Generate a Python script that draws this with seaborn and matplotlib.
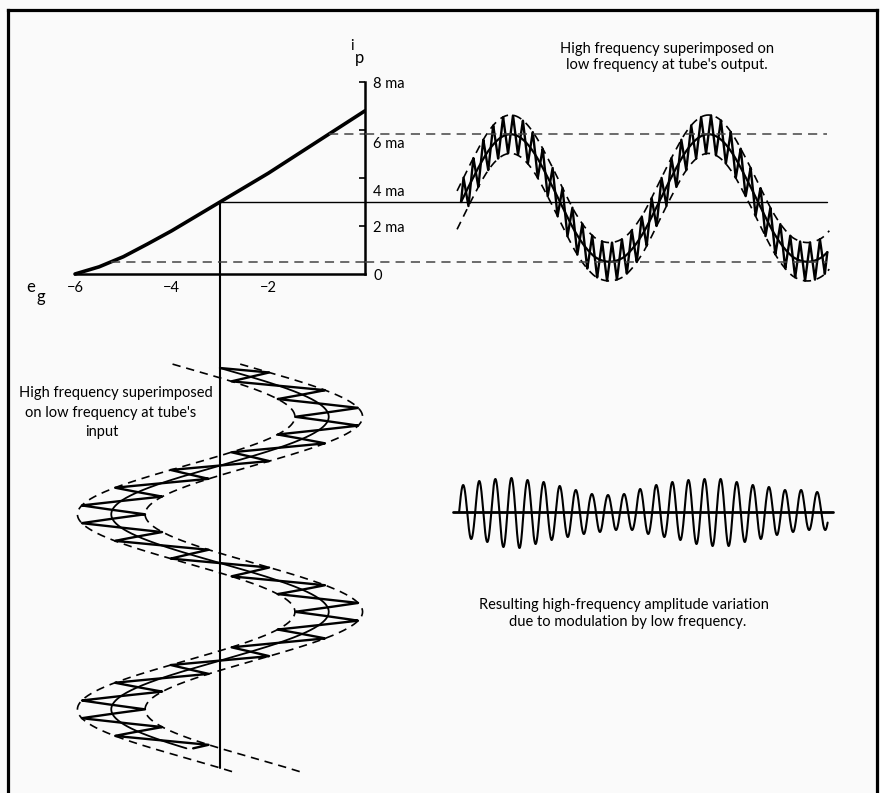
import numpy as np
import matplotlib.pyplot as plt
import matplotlib.transforms as mtransforms
import seaborn as sns

# plate current vs grid voltage
eg_curve = [-6, -5.5, -5, -4.5, -4, -3.5, -3, -2, -1, 0]
ip_curve = [0.0, 0.3, 0.72, 1.25, 1.8, 2.4, 3.0, 4.2, 5.5, 6.8]

bias = -3.0          # grid bias (volts)
lf_amp = 2.25        # low frequency swing on the grid (volts)
hf_amp_in = 0.7      # high frequency swing on the grid (volts)
hf_amp_out = 0.8     # high frequency swing in the plate current (ma)
hf_per_lf_in = 11    # carrier cycles per low-frequency cycle, input sketch
hf_per_lf_out = 20   # carrier cycles per low-frequency cycle, output sketch
in_cycles = 1.95
out_cycles = 1.85

x_ticks = [-6, -4, -2]
x_ticklabels = ['\u22126', '\u22124', '\u22122']
y_ticks = [0, 2, 4, 6, 8]
y_ticklabels = ['0', '2 ma', '4 ma', '6 ma', '8 ma']
y_label_drop = [0, 0, 12, 12, 0]   # labels drawn a little under their tick in the original

# modulated wave: height of each carrier peak / trough
mod_peaks = [27, 31, 33, 34, 32, 30, 26, 22, 18, 17, 18, 23, 27, 30, 32, 33, 33, 30, 27, 25, 22, 22, 20]
mod_troughs = [27, 30, 35, 36, 32, 28, 25, 22, 20, 18, 18, 22, 25, 28, 32, 34, 34, 30, 27, 23, 20, 18, 18]
mod_cycles = 22.9

sns.set_style('white')
plt.rcParams['font.family'] = ['Lato', 'DejaVu Sans']
plt.rcParams['axes.unicode_minus'] = True

W, H = 880, 793
bg = '#fafafa'
fig = plt.figure(figsize=(W / 100, H / 100), dpi=100, facecolor=bg)


def px_axes(x0, y0, x1, y1):
    a = fig.add_axes([x0 / W, 1 - y1 / H, (x1 - x0) / W, (y1 - y0) / H])
    a.patch.set_alpha(0)
    return a


def tri(t):
    return 2 / np.pi * np.arcsin(np.sin(2 * np.pi * t))


# frame
frame = px_axes(8, 10, 877, 810)
frame.set_xticks([])
frame.set_yticks([])
for s in ['left', 'top', 'right']:
    frame.spines[s].set_linewidth(2.3)
    frame.spines[s].set_color('black')
frame.spines['bottom'].set_visible(False)

# ---- transfer characteristic
ax_tc = px_axes(20, 30, 365, 300)
ax_tc.set_xlim(-7.138, 0)
ax_tc.set_ylim(-1.083, 10.167)
sns.lineplot(x=eg_curve, y=ip_curve, ax=ax_tc, color='black', lw=2.6,
             estimator=None, sort=False)
for s in ['left', 'top']:
    ax_tc.spines[s].set_visible(False)
ax_tc.spines['bottom'].set_position(('data', 0))
ax_tc.spines['bottom'].set_bounds(-6, 0)
ax_tc.spines['right'].set_bounds(0, 8)
for s in ['bottom', 'right']:
    ax_tc.spines[s].set_linewidth(1.8)
    ax_tc.spines[s].set_color('black')
ax_tc.yaxis.tick_right()
ax_tc.set_xticks(x_ticks)
ax_tc.set_xticklabels(x_ticklabels)
ax_tc.set_yticks(y_ticks)
ax_tc.set_yticklabels(y_ticklabels)
ax_tc.tick_params(axis='x', direction='in', length=4, width=1.2, pad=5, labelsize=10.5, colors='black')
ax_tc.tick_params(axis='y', direction='in', length=4, width=1.2, pad=6, labelsize=10.5, colors='black')
ax_tc.yaxis.get_major_ticks()[0].tick2line.set_visible(False)
for lab, drop in zip(ax_tc.get_yticklabels(), y_label_drop):
    lab.set_transform(lab.get_transform() +
                      mtransforms.ScaledTranslation(0, -drop / 100, fig.dpi_scale_trans))

ip_q = np.interp(bias, eg_curve, ip_curve)
ip_hi = np.interp(bias + lf_amp, eg_curve, ip_curve)
ip_lo = np.interp(bias - lf_amp, eg_curve, ip_curve)
dash = (6, 4)
ax_tc.plot([bias, 0], [ip_q, ip_q], color='black', lw=1.0)
ax_tc.plot([bias, bias], [ip_q, 0], color='black', lw=1.5)
ax_tc.plot([bias + lf_amp, 0], [ip_hi, ip_hi], color='#444444', lw=1.1, dashes=dash)
ax_tc.plot([bias - lf_amp, 0], [ip_lo, ip_lo], color='#444444', lw=1.1, dashes=dash)

# ---- output (plate current vs time)
ax_out = px_axes(365, 30, 860, 300)
ax_out.set_xlim(-0.485, 2.015)
ax_out.set_ylim(-1.083, 10.167)
ax_out.axis('off')
t = np.linspace(0, out_cycles, 4000)
inner = np.interp(bias + lf_amp * np.sin(2 * np.pi * t), eg_curve, ip_curve)
wave = inner + hf_amp_out * tri(hf_per_lf_out * t)
sns.lineplot(x=t, y=wave, ax=ax_out, color='black', lw=1.7, estimator=None, sort=False)
sns.lineplot(x=t, y=inner, ax=ax_out, color='black', lw=1.6, estimator=None, sort=False)
te = np.linspace(-0.02, out_cycles + 0.01, 800)
inner_e = np.interp(bias + lf_amp * np.sin(2 * np.pi * te), eg_curve, ip_curve)
ax_out.plot(te, inner_e + hf_amp_out, color='black', lw=1.2, dashes=(5, 3.5), clip_on=False)
ax_out.plot(te, inner_e - hf_amp_out, color='black', lw=1.2, dashes=(5, 3.5), clip_on=False)
ax_out.plot([-0.485, out_cycles], [ip_q, ip_q], color='black', lw=1.0)
ax_out.plot([-0.485, out_cycles], [ip_hi, ip_hi], color='#444444', lw=1.1, dashes=dash)
ax_out.plot([-0.485, out_cycles], [ip_lo, ip_lo], color='#444444', lw=1.1, dashes=dash)

# ---- input (grid voltage vs time, time running down)
ax_in = px_axes(20, 274, 365, 793)
ax_in.set_xlim(-7.138, 0)
ax_in.set_ylim(2.179, -0.482)
ax_in.axis('off')
t = np.linspace(0, in_cycles, 4000)
lf = bias + lf_amp * np.sin(2 * np.pi * t)
wave = lf + hf_amp_in * tri(hf_per_lf_in * t)
sns.lineplot(x=wave, y=t, ax=ax_in, color='black', lw=1.7, estimator=None, sort=False)
sns.lineplot(x=lf, y=t, ax=ax_in, color='black', lw=1.3, estimator=None, sort=False)
te = np.linspace(-0.02, in_cycles + 0.12, 800)
lf_e = bias + lf_amp * np.sin(2 * np.pi * te)
ax_in.plot(lf_e + hf_amp_in, te, color='black', lw=1.2, dashes=(5, 3.5), clip_on=False)
ax_in.plot(lf_e - hf_amp_in, te, color='black', lw=1.2, dashes=(5, 3.5), clip_on=False)
ax_in.plot([bias, bias], [-0.482, 2.05], color='black', lw=1.5)

# ---- resulting modulated wave
ax_mod = px_axes(440, 462, 850, 562)
ax_mod.set_xlim(-1.19, 24.29)
ax_mod.set_ylim(-50, 50)
ax_mod.axis('off')
c = np.linspace(0, mod_cycles, 4000)
k = np.minimum(c.astype(int), len(mod_peaks) - 1)
s = np.sin(2 * np.pi * c)
y = np.where(s >= 0, s * np.array(mod_peaks)[k], s * np.array(mod_troughs)[k])
sns.lineplot(x=c, y=y, ax=ax_mod, color='black', lw=1.5, estimator=None, sort=False)
ax_mod.plot([-0.37, 23.24], [0, 0], color='black', lw=2.0)

# ---- text
fs = 10.5


def ftext(x, y, txt, **kw):
    kw.setdefault('fontsize', fs)
    fig.text(x / W, 1 - y / H, txt, va='center', color='black', **kw)


ftext(352, 46, 'i', ha='center')
ftext(359, 58, 'p', ha='center', fontsize=12)
ftext(31, 287, 'e', ha='center', fontsize=12)
ftext(41, 297, 'g', ha='center', fontsize=12)
ftext(667, 49, 'High frequency superimposed on', ha='center')
ftext(667, 65, "low frequency at tube's output.", ha='center')
ftext(116, 393, 'High frequency superimposed', ha='center')
ftext(111, 413, "on low frequency at tube's", ha='center')
ftext(102, 432, 'input', ha='center')
ftext(624, 605, 'Resulting high-frequency amplitude variation', ha='center')
ftext(628, 622, 'due to modulation by low frequency.', ha='center')

fig.savefig('out.png', dpi=100, facecolor=bg)
